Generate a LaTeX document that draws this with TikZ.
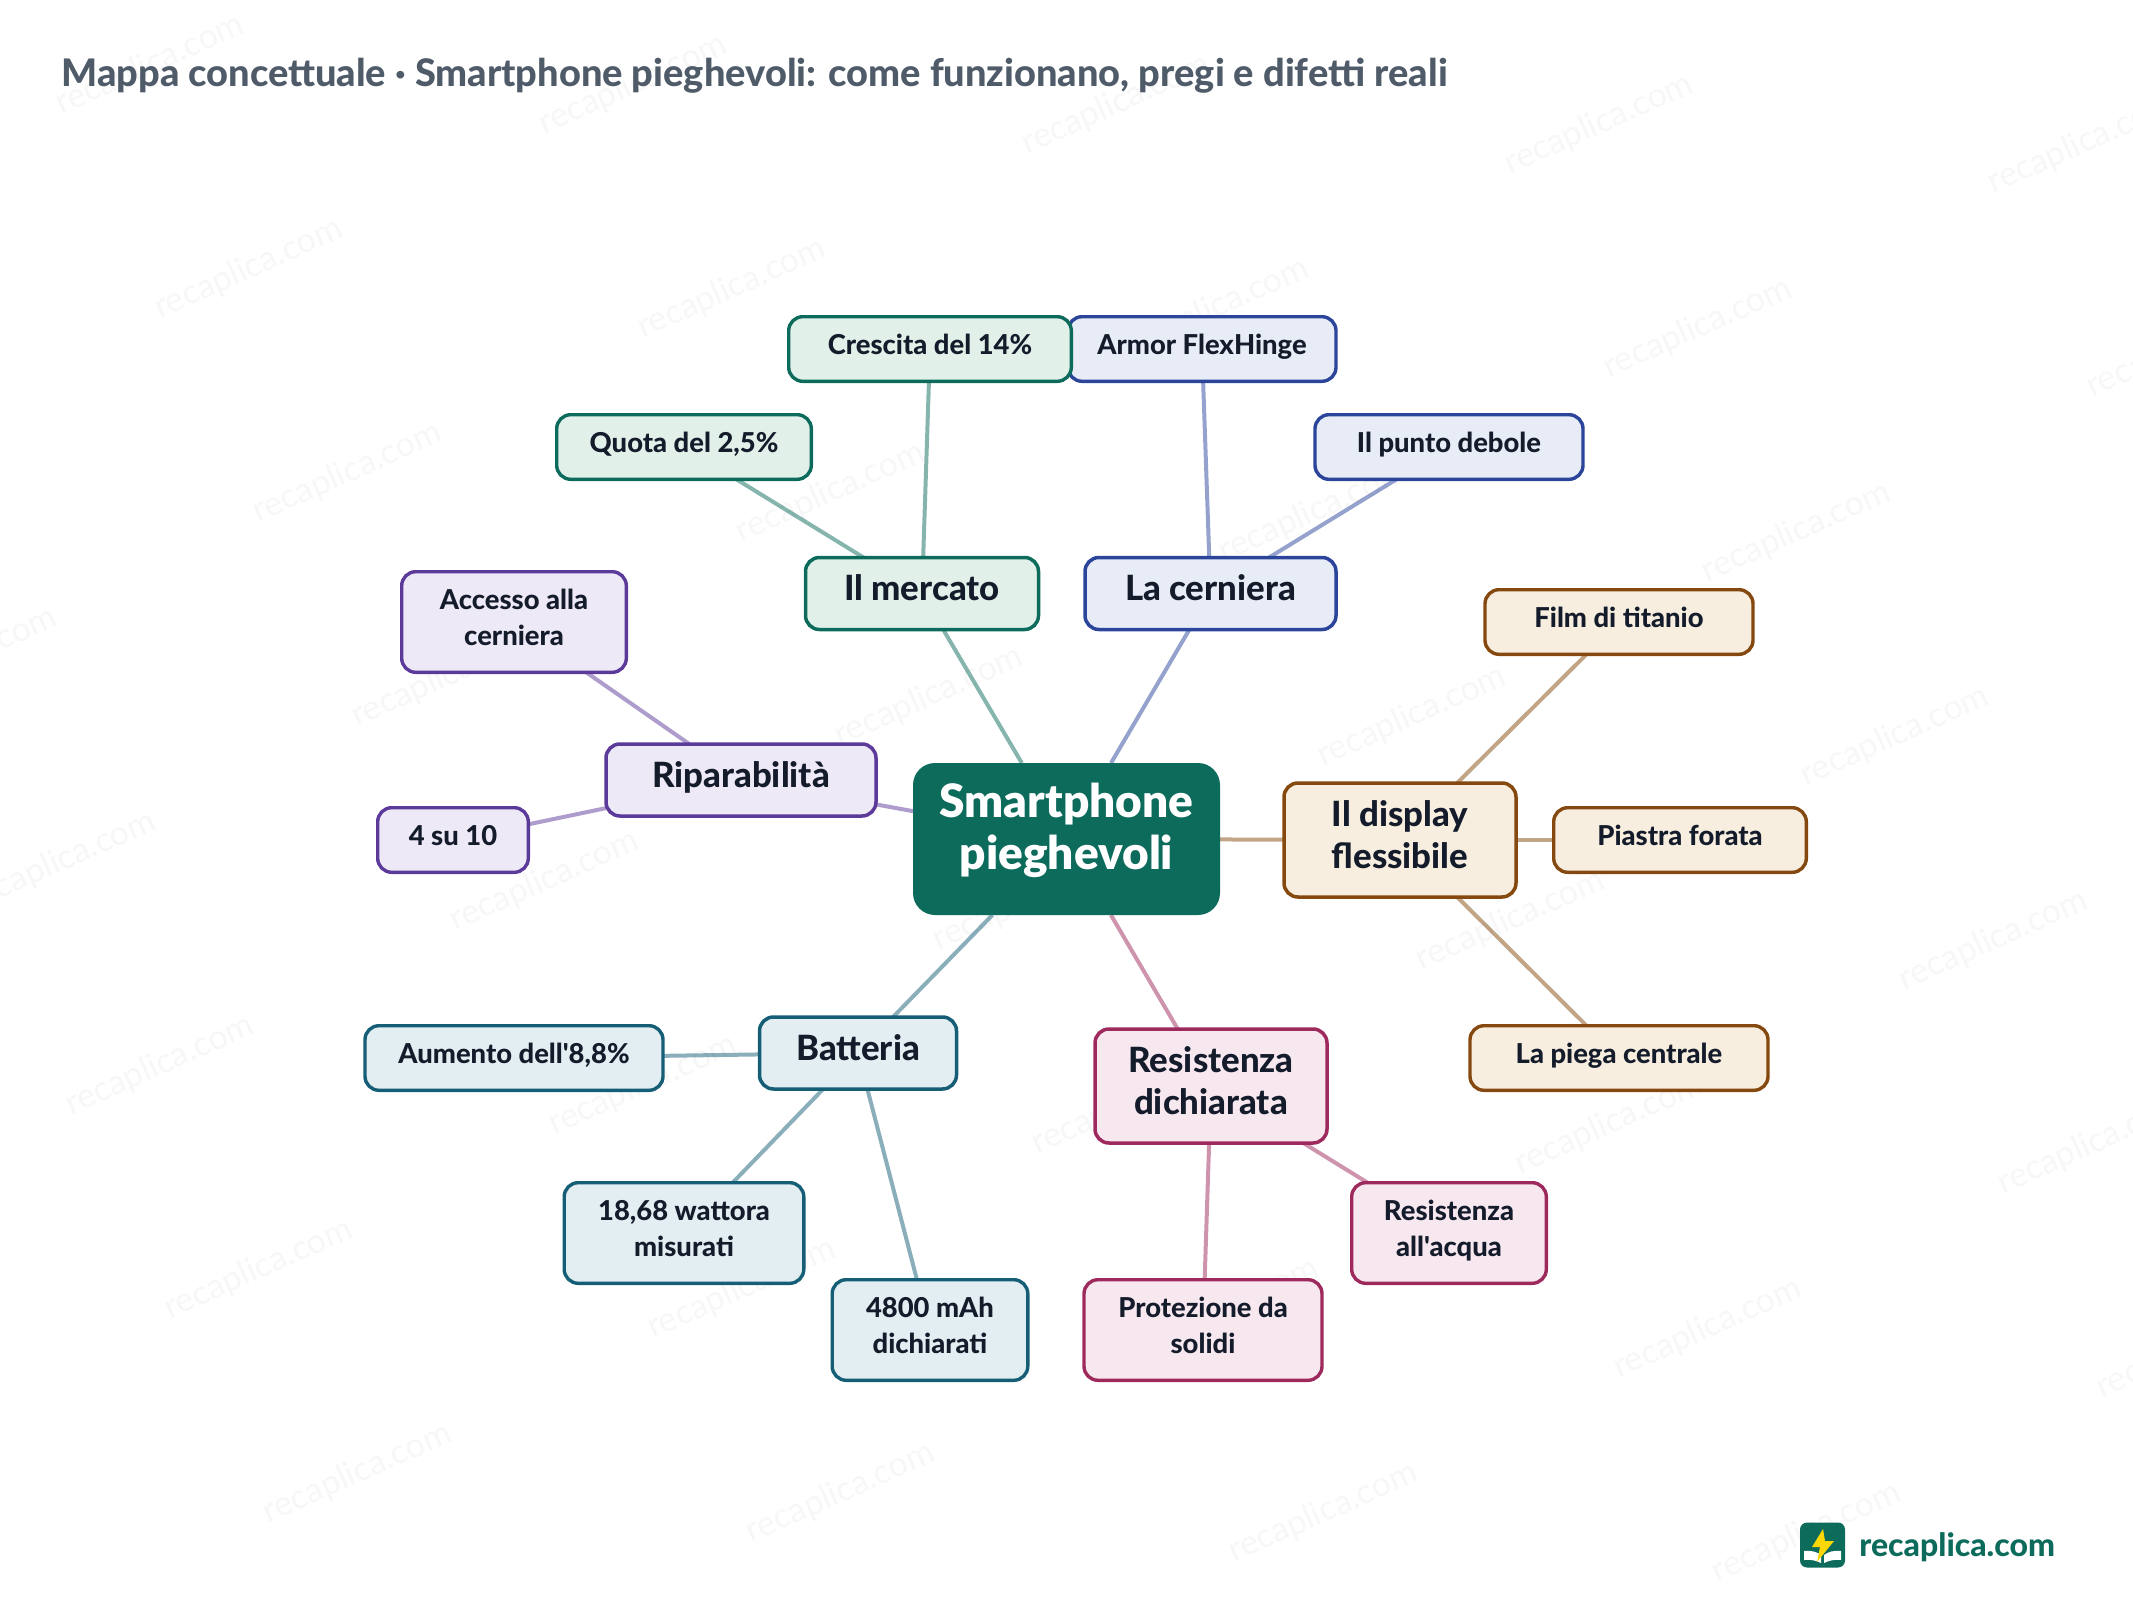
\documentclass[tikz,border=0pt]{standalone}
\usepackage{fontspec}
\setmainfont{Lato}[Ligatures=TeXOff]
\newfontfamily\heavyfont{Lato Heavy}[Ligatures=TeXOff]
\newfontfamily\blackfont{Lato Black}[Ligatures=TeXOff]
\usepackage{tikz}
\usetikzlibrary{backgrounds}

\definecolor{hubfill}{HTML}{0D6B5C}
\definecolor{titlecol}{HTML}{4F5B68}
\definecolor{inkcol}{HTML}{141B2B}
\definecolor{marketline}{HTML}{0D6B5C}
\definecolor{marketfill}{HTML}{E2F0EA}
\definecolor{hingeline}{HTML}{2B459B}
\definecolor{hingefill}{HTML}{E8ECF6}
\definecolor{displayline}{HTML}{85490F}
\definecolor{displayfill}{HTML}{F7EEDF}
\definecolor{proofline}{HTML}{9E2A5D}
\definecolor{prooffill}{HTML}{F7E8EF}
\definecolor{powerline}{HTML}{155E75}
\definecolor{powerfill}{HTML}{E3EEF2}
\definecolor{repairline}{HTML}{5B3A99}
\definecolor{repairfill}{HTML}{EEE9F7}

\begin{document}
\begin{tikzpicture}[
    x=0.5pt, y=-0.5pt,
    hub/.style={fill=hubfill, text=white, rounded corners=11pt, minimum width=153.5pt, minimum height=76pt, inner sep=0pt, outer sep=0pt, align=center, text depth=12.5pt, font=\fontsize{23}{26}\blackfont},
    branch/.style={draw=#1line, fill=#1fill, text=inkcol, line width=1.75pt, rounded corners=7pt, inner sep=0pt, outer sep=0pt, align=center, minimum height=36pt, text depth=5.8pt, font=\fontsize{17.4}{21}\heavyfont},
    leaf/.style={draw=#1line, fill=#1fill, text=inkcol, line width=1.7pt, rounded corners=7pt, inner sep=0pt, outer sep=0pt, align=center, minimum height=32.3pt, text depth=4.8pt, font=\fontsize{13.7}{18}\heavyfont},
    channel/.style={draw=#1line, opacity=.5, line width=2pt},
    stamp/.style={text=black!3, rotate=24, font=\fontsize{17}{17}\selectfont}
]
\useasboundingbox (0,0) rectangle (2133,1600);

% Title
\node[anchor=west, text=titlecol, inner sep=0pt, font=\fontsize{19}{23}\heavyfont] (title) at (61,76) {Mappa concettuale · Smartphone pieghevoli: come funzionano, pregi e difetti reali};

% Central node
\node[hub] (core) at (1066.5,839) {Smartphone\\pieghevoli};

% Market
\node[branch=market, minimum width=116.5pt] (market) at (922,593.5) {Il mercato};
\node[leaf=market, minimum width=127.3pt] (share) at (684,447) {Quota del 2,5\%};

% Hinge
\node[branch=hinge, minimum width=125.5pt] (hinge) at (1210.5,593.5) {La cerniera};
\node[leaf=hinge, minimum width=134pt] (armor) at (1202,349) {Armor FlexHinge};
\node[leaf=hinge, minimum width=134pt] (weak) at (1449,447) {Il punto debole};
\node[leaf=market, minimum width=141.3pt] (growth) at (930,349) {Crescita del 14\%};

% Display
\node[branch=display, minimum width=116pt, minimum height=57pt] (display) at (1400,840) {Il display\\flessibile};
\node[leaf=display, minimum width=134pt] (film) at (1619,622) {Film di titanio};
\node[leaf=display, minimum width=126.3pt] (plate) at (1680,840) {Piastra forata};
\node[leaf=display, minimum width=149pt] (crease) at (1619,1058) {La piega centrale};

% Resistance
\node[branch=proof, minimum width=116pt, minimum height=57pt] (proof) at (1211,1086) {Resistenza\\dichiarata};
\node[leaf=proof, minimum width=97.3pt, minimum height=50.3pt] (water) at (1449,1233) {Resistenza\\all'acqua};
\node[leaf=proof, minimum width=119pt, minimum height=50.3pt] (solid) at (1203,1330) {Protezione da\\solidi};

% Battery
\node[branch=power, minimum width=98.5pt] (power) at (858,1053) {Batteria};
\node[leaf=power, minimum width=149pt] (rise) at (514,1058) {Aumento dell'8,8\%};
\node[leaf=power, minimum width=119.8pt, minimum height=50.3pt] (watt) at (684,1233) {18,68 wattora\\misurati};
\node[leaf=power, minimum width=97.8pt, minimum height=50.3pt] (mah) at (930,1330) {4800 mAh\\dichiarati};

% Repair
\node[branch=repair, minimum width=135pt] (repair) at (741,780) {Riparabilità};
\node[leaf=repair, minimum width=112.3pt, minimum height=50.3pt] (access) at (514,622) {Accesso alla\\cerniera};
\node[leaf=repair, minimum width=75.3pt] (score) at (453,840) {4 su 10};

% Stamp and connectors under the boxes
\begin{scope}[on background layer]
\begin{scope}
\clip (0,0) rectangle (2133,1600);
\foreach \j in {0,...,7}
  \foreach \i in {-2,...,4}
    \node[stamp, name=stamp\i\j] at ({150+483*\i+98.6*\j},{65+19.7*\i+204*\j}) {recaplica.com};
\end{scope}
\draw[channel=market] (core) -- (market);
\draw[channel=market] (market) -- (share);
\draw[channel=market] (market) -- (growth);
\draw[channel=hinge] (core) -- (hinge);
\draw[channel=hinge] (hinge) -- (armor);
\draw[channel=hinge] (hinge) -- (weak);
\draw[channel=display] (core) -- (display);
\draw[channel=display] (display) -- (film);
\draw[channel=display] (display) -- (plate);
\draw[channel=display] (display) -- (crease);
\draw[channel=proof] (core) -- (proof);
\draw[channel=proof] (proof) -- (water);
\draw[channel=proof] (proof) -- (solid);
\draw[channel=power] (core) -- (power);
\draw[channel=power] (power) -- (rise);
\draw[channel=power] (power) -- (watt);
\draw[channel=power] (power) -- (mah);
\draw[channel=repair] (core) -- (repair);
\draw[channel=repair] (repair) -- (access);
\draw[channel=repair] (repair) -- (score);
\end{scope}

% Logo
\node[fill=hubfill, rounded corners=3.5pt, minimum size=22.5pt, inner sep=0pt, outer sep=0pt] (logo) at (1822.5,1545) {};
\fill[white] (1804,1551) .. controls (1811,1550) and (1817,1552) .. (1821,1555) -- (1821,1563) .. controls (1817,1561) and (1811,1559) .. (1804,1560) -- cycle;
\fill[white] (1841,1551) .. controls (1834,1550) and (1828,1552) .. (1824,1555) -- (1824,1563) .. controls (1828,1561) and (1834,1559) .. (1841,1560) -- cycle;
\fill[yellow!75!orange] (1823,1529) -- (1812,1547) -- (1820,1547) -- (1817,1562) -- (1834,1541) -- (1825,1541) -- cycle;
\node[anchor=west, text=hubfill, inner sep=0pt, font=\fontsize{16}{20}\heavyfont] (brand) at (1859,1547) {recaplica.com};
\end{tikzpicture}
\end{document}
